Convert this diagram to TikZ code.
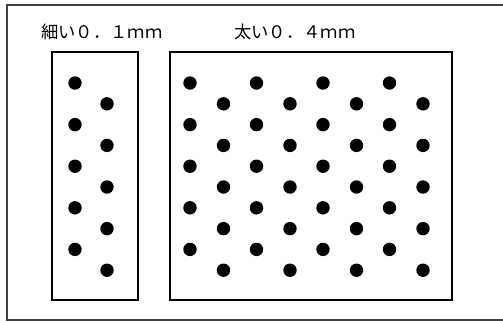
\documentclass[tikz,border=0pt]{standalone}
\usepackage{fontspec}
\newfontfamily\jpfont{Noto Sans CJK JP}
\tikzset{
  frame/.style={draw=black!75, line width=2pt},
  patch/.style={draw=black, line width=2pt},
  dot/.style={fill=black},
  label/.style={font=\jpfont\fontsize{17.3}{19}\selectfont, anchor=west, inner sep=0pt}
}
\begin{document}
\begin{tikzpicture}[x=1pt, y=-1pt]
    \useasboundingbox (0,0) rectangle (503,322);
    % Marco exterior (abierto a la derecha)
    \draw[frame] (503,5) -- (7,5) -- (7,320) -- (503,320);

    % Etiquetas
    \node[label] (lblthin) at (41,32) {細い０．１ｍｍ};
    \node[label] (lblthick) at (234,32) {太い０．４ｍｍ};

    % Caja fina
    \draw[patch] (52,52) rectangle (138,300);
    \foreach \k in {0,2,4,6,8} {
      \fill[dot] (75,83+20.8*\k) circle (6.7);
      \fill[dot] (107,83+20.8*\k+20.8) circle (6.7);
    }

    % Caja gruesa
    \draw[patch] (170,52) rectangle (452,300);
    \foreach \k in {0,2,4,6,8} {
      \foreach \j in {0,1,2,3} {
        \fill[dot] (190+66.5*\j,83+20.8*\k) circle (6.7);
        \fill[dot] (223.5+66.5*\j,83+20.8*\k+20.8) circle (6.7);
      }
    }
  \end{tikzpicture}
\end{document}
